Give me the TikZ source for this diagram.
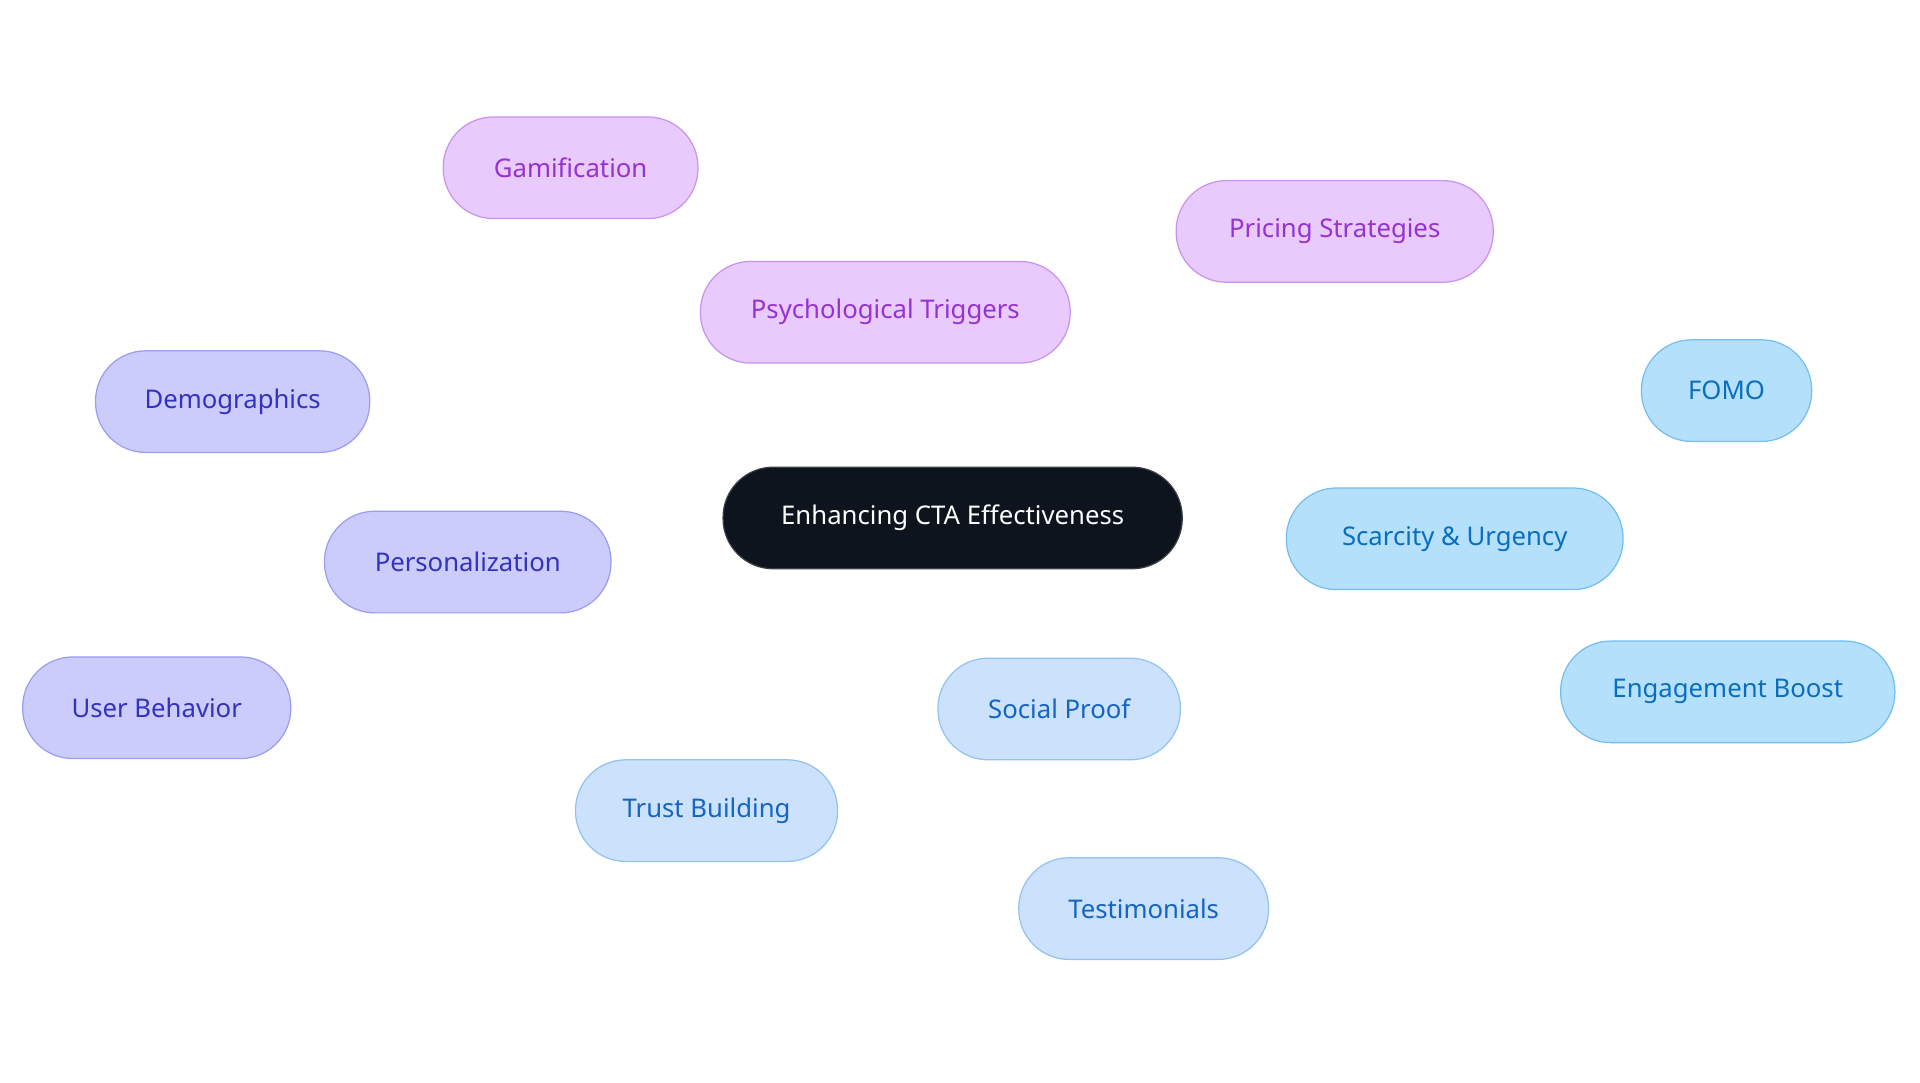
\documentclass[tikz,border=0pt]{standalone}
\usepackage{fontspec}
\setmainfont{Noto Sans}
\definecolor{cen}{HTML}{0D141E}
\definecolor{pf}{HTML}{E8CAFC}\definecolor{pb}{HTML}{C992F0}\definecolor{pt}{HTML}{9632D2}
\definecolor{if}{HTML}{CBCBFC}\definecolor{ib}{HTML}{9C9CF0}\definecolor{it}{HTML}{3232BE}
\definecolor{sf}{HTML}{CCE2FC}\definecolor{sb}{HTML}{92C2F0}\definecolor{st}{HTML}{1464C4}
\definecolor{kf}{HTML}{B5E0FC}\definecolor{kb}{HTML}{72BEF0}\definecolor{kt}{HTML}{0A6EBE}
\begin{document}
\begin{tikzpicture}[x=1pt,y=-1pt,
 n/.style={rounded corners=41pt,minimum height=83pt,line width=1pt,font=\fontsize{21}{24}\selectfont,inner sep=0pt},
 P/.style={n,fill=pf,draw=pb,text=pt},
 I/.style={n,fill=if,draw=ib,text=it},
 S/.style={n,fill=sf,draw=sb,text=st},
 K/.style={n,fill=kf,draw=kb,text=kt},
 e/.style={line width=3pt}]
\useasboundingbox (0,0) rectangle (1568,884);
\node[n,fill=cen,draw=cen!60!gray,text=white,minimum width=375pt] (c) at (778,423) {Enhancing CTA Effectiveness};
\node[P,minimum width=302pt] (p) at (723,255) {Psychological Triggers};
\node[P,minimum width=208pt] (g) at (466,137) {Gamification};
\node[P,minimum width=259pt] (pr) at (1090,189) {Pricing Strategies};
\node[I,minimum width=234pt] (pe) at (382,459) {Personalization};
\node[I,minimum width=224pt] (d) at (190,328) {Demographics};
\node[I,minimum width=219pt] (u) at (128,578) {User Behavior};
\node[S,minimum width=198pt] (s) at (865,579) {Social Proof};
\node[S,minimum width=214pt] (t) at (577,662) {Trust Building};
\node[S,minimum width=204pt] (te) at (934,742) {Testimonials};
\node[K,minimum width=275pt] (k) at (1188,440) {Scarcity \& Urgency};
\node[K,minimum width=139pt] (f) at (1410,319) {FOMO};
\node[K,minimum width=273pt] (en) at (1411,565) {Engagement Boost};
\begin{scope}[on background layer/.style={}]
\end{scope}
\begin{pgfonlayer}{main}\end{pgfonlayer}
\end{tikzpicture}
\end{document}
